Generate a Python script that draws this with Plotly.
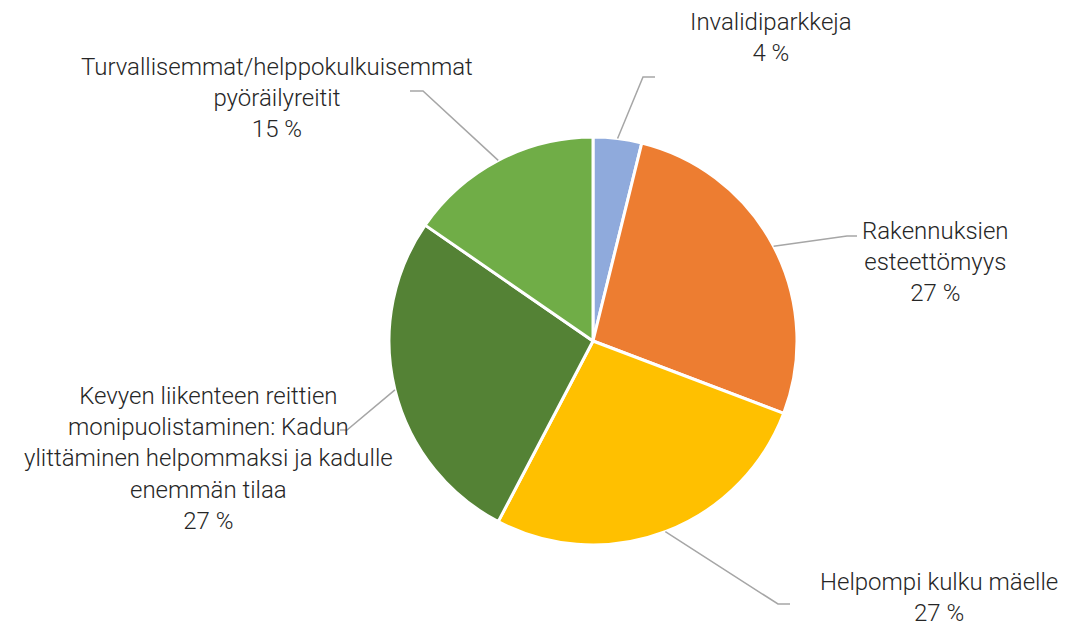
import math
import plotly.graph_objects as go

W, H = 1060, 616   # page body has an 8px margin
OFF = 8

categories = [
    "Invalidiparkkeja",
    "Rakennuksien<br>esteettömyys",
    "Helpompi kulku mäelle",
    "Kevyen liikenteen reittien<br>monipuolistaminen: Kadun<br>ylittäminen helpommaksi ja kadulle<br>enemmän tilaa",
    "Turvallisemmat/helppokulkuisemmat<br>pyöräilyreitit",
]
values = [1, 7, 7, 7, 4]
colors = ["#8FAADC", "#ED7D31", "#FFC000", "#548235", "#70AD47"]

# layout: pie centre / radius in window pixels
CX, CY, R = 593, 341, 204
# label centre positions (px) and leader elbow/end points (px)
label_pos = [(771, 38), (935, 262), (939, 597), (208, 458), (277, 98)]
elbows = [((643, 77), (655, 77)), ((847, 236), (857, 236)), ((778, 604), (790, 604)),
          ((347, 430), (340, 430)), ((423, 91), (410, 91))]

def px(x):
    return (x - OFF) / W

def py(y):
    return 1 - (y - OFF) / H

fig = go.Figure(go.Pie(
    labels=[c.replace("<br>", " ") for c in categories],
    values=values,
    sort=False,
    direction="clockwise",
    rotation=0,
    marker=dict(colors=colors, line=dict(color="white", width=3)),
    textinfo="none",
    hoverinfo="label+percent",
    domain=dict(x=[px(CX - R), px(CX + R)], y=[py(CY + R), py(CY - R)]),
    showlegend=False,
))

total = sum(values)
cum = 0
shapes = []
annotations = []
for i, v in enumerate(values):
    mid = (cum + v / 2) / total * 2 * math.pi
    cum += v
    sx = CX + R * math.sin(mid)
    sy = CY - R * math.cos(mid)
    (ex, ey), (fx, fy) = elbows[i]
    path = f"M {px(sx)},{py(sy)} L {px(ex)},{py(ey)} L {px(fx)},{py(fy)}"
    shapes.append(dict(type="path", path=path, xref="paper", yref="paper",
                       line=dict(color="#A6A6A6", width=1.5)))
    pct = round(v / total * 100)
    lx, ly = label_pos[i]
    annotations.append(dict(
        x=px(lx), y=py(ly), xref="paper", yref="paper",
        text=f"{categories[i]}<br>{pct} %", showarrow=False,
        xanchor="center", yanchor="middle", align="center",
        font=dict(family="Roboto", size=24, color="#262626", weight=300),
    ))

fig.update_layout(
    width=W, height=H,
    margin=dict(l=0, r=0, t=0, b=0),
    paper_bgcolor="white", plot_bgcolor="white",
    shapes=shapes, annotations=annotations,
)

fig.write_html("out.html")
